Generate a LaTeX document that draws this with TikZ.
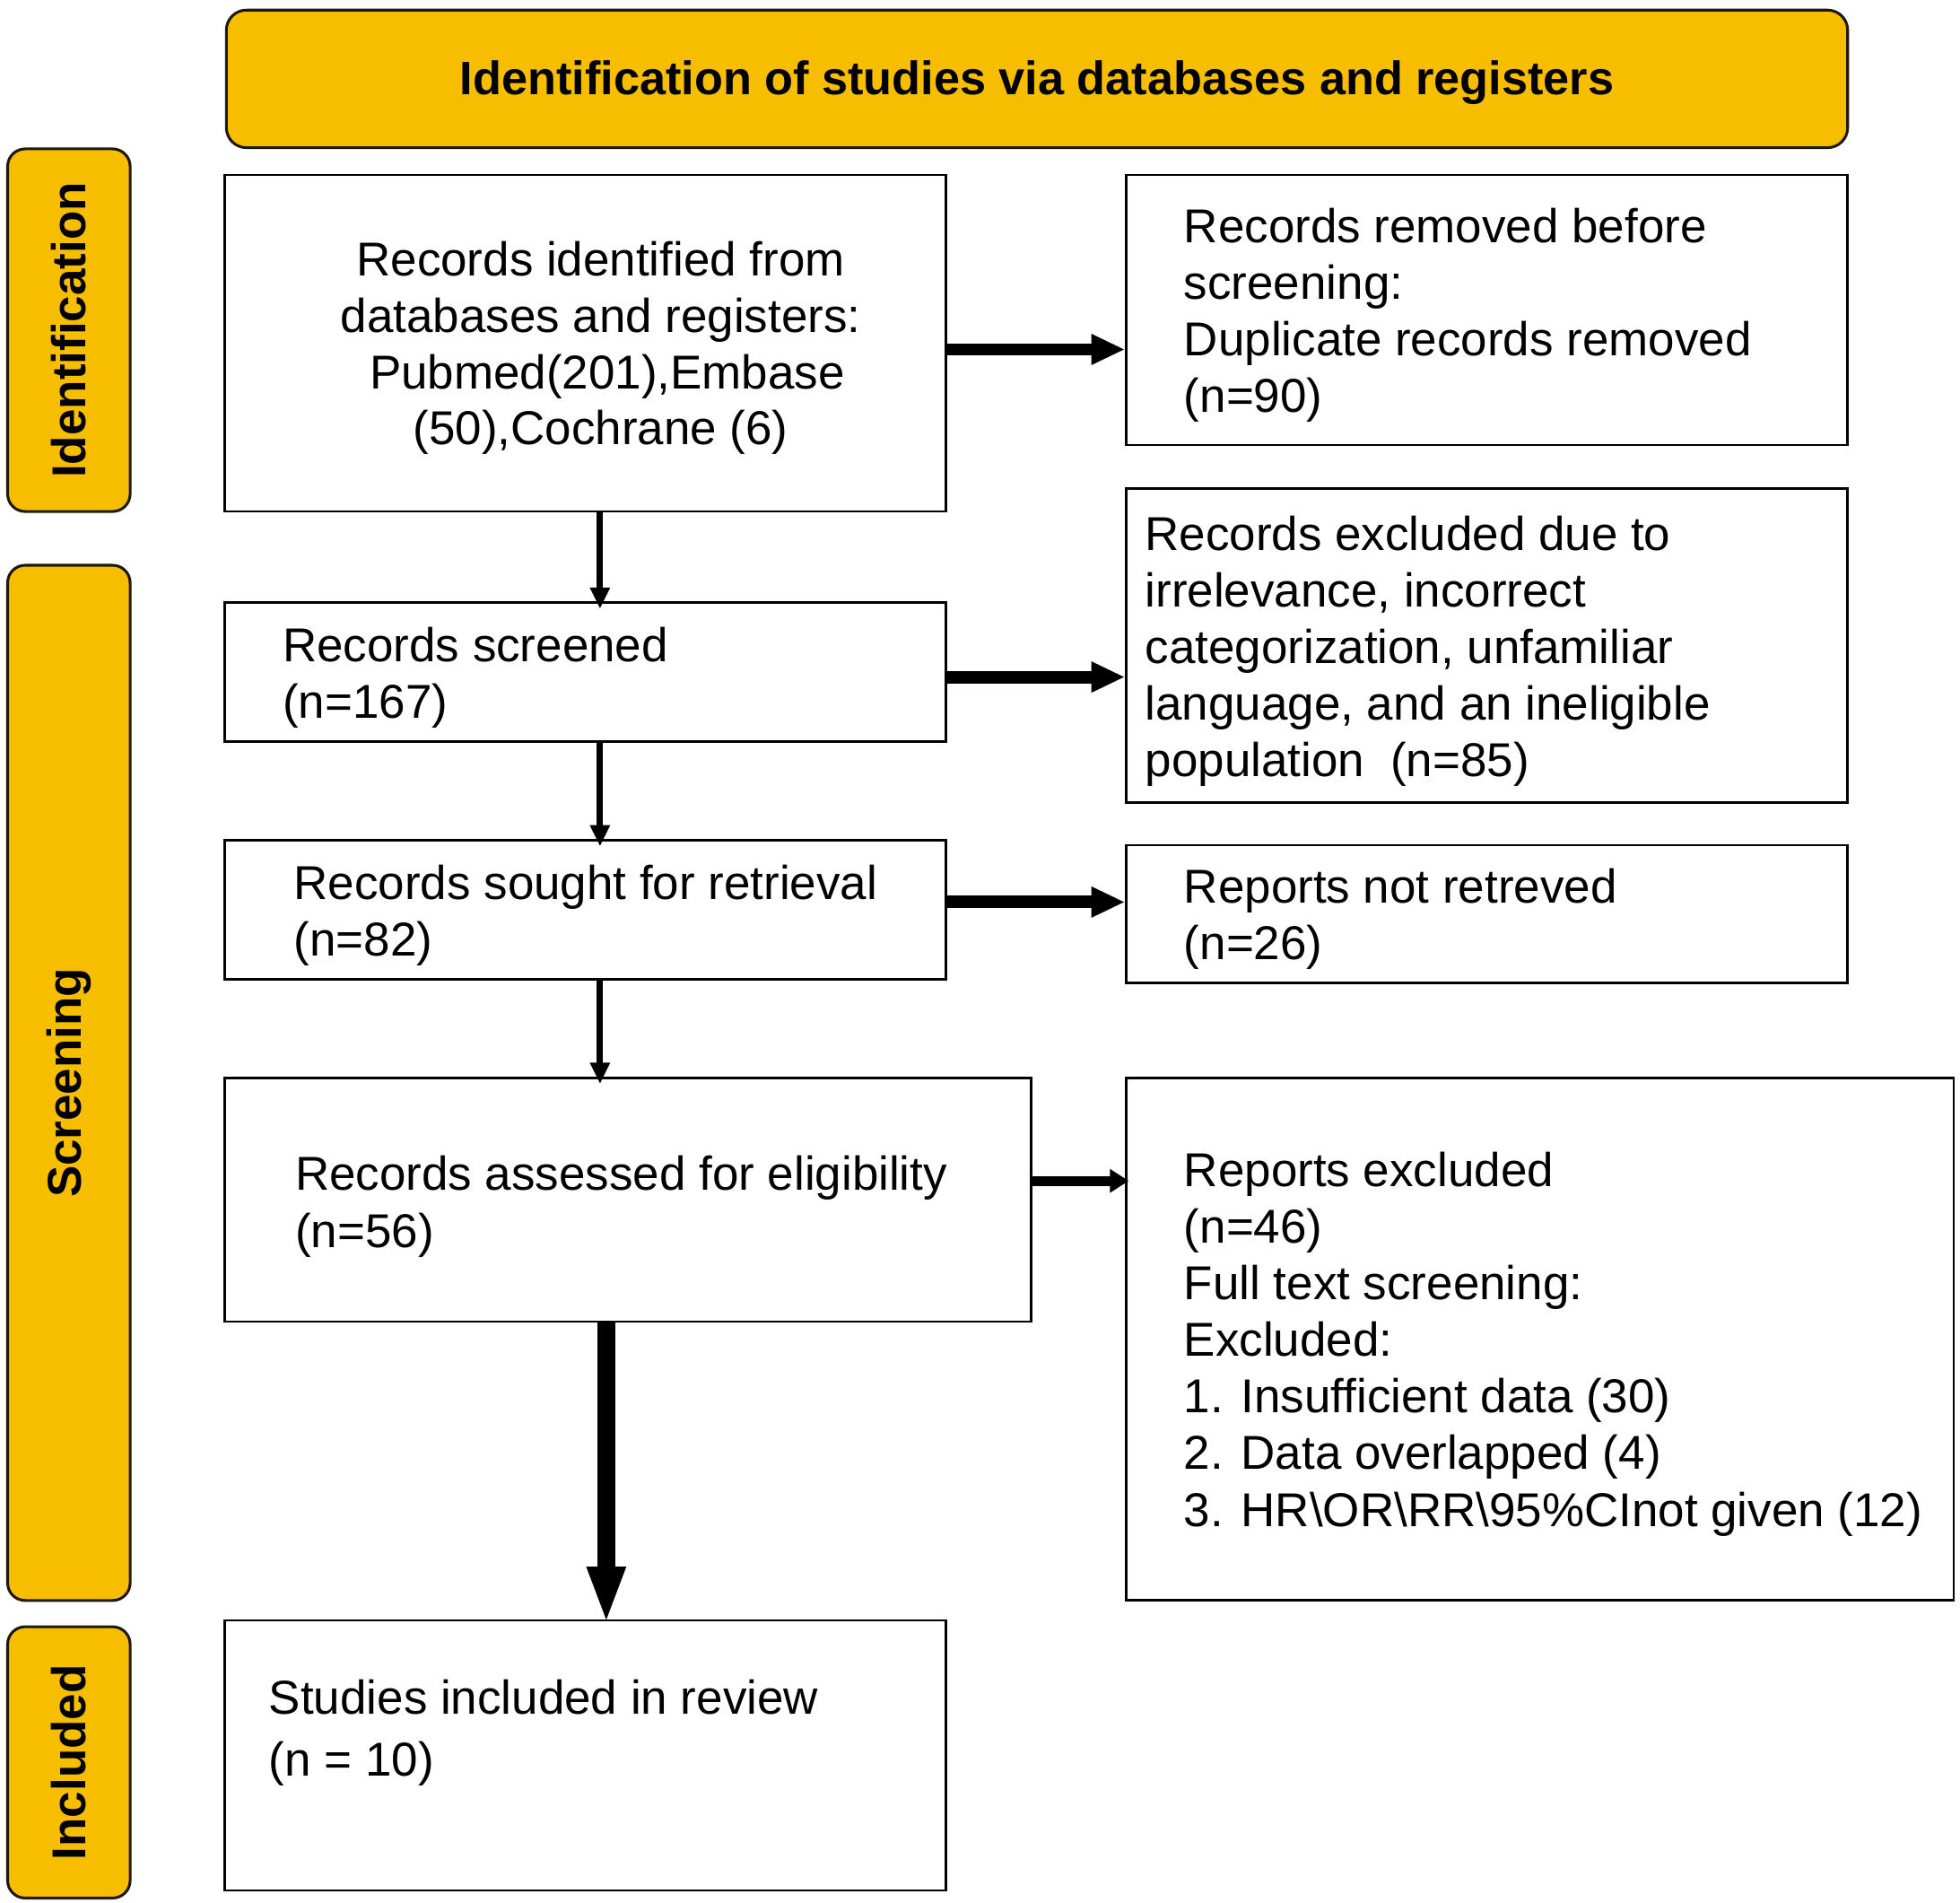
\documentclass[tikz,border=0pt]{standalone}
\usepackage{fontspec}
\setmainfont{Liberation Sans}
\usetikzlibrary{arrows.meta,calc}
\definecolor{prismayellow}{RGB}{247,190,0}
\definecolor{edgedark}{RGB}{30,25,10}
\begin{document}
\begin{tikzpicture}[x=1pt,y=-1pt,
  box/.style={draw=black, line width=2pt, rectangle, inner sep=0pt, anchor=north west, fill=white},
  band/.style={draw=edgedark, line width=2.2pt, rectangle, rounded corners=14pt, fill=prismayellow, inner sep=0pt, anchor=north west},
  txt/.style={inner sep=0pt, align=left, anchor=west, font=\fontsize{38pt}{45.3pt}\selectfont},
  ctxt/.style={inner sep=0pt, align=center, font=\fontsize{38pt}{45pt}\selectfont},
  sidetxt/.style={inner sep=0pt, rotate=90, font=\fontsize{38pt}{45pt}\selectfont\bfseries},
  bigarrow/.style={line width=10pt, -{Triangle[length=27pt,width=23pt]}},
  midarrow/.style={line width=8pt, -{Triangle[length=15pt,width=18pt]}},
  thinarrow/.style={line width=5pt, -{Triangle[length=17pt,width=15pt]}},
  hugearrow/.style={line width=14pt, -{Triangle[length=46pt,width=28pt]}}
]
\useasboundingbox (0,0) rectangle (1568,1522);

% title band
\node[band, rounded corners=16pt, minimum width=1297pt, minimum height=110pt] (title) at (180,7) {};
\node[inner sep=0pt, font=\fontsize{37.5pt}{45pt}\selectfont\bfseries] (titlet) at ([yshift=-3pt]title.center)
      {Identification of studies via databases and registers};

% side bands
\node[band, minimum width=98pt, minimum height=290pt] (sideI) at (5,118) {};
\node[sidetxt] (sideIt) at (sideI.center) {Identification};
\node[band, minimum width=98pt, minimum height=828pt] (sideS) at (5,451) {};
\node[sidetxt] (sideSt) at (sideS.center) {Screening};
\node[band, minimum width=98pt, minimum height=217pt] (sideN) at (5,1300) {};
\node[sidetxt] (sideNt) at (sideN.center) {Included};

% boxes
\node[box, minimum width=577pt, minimum height=269pt] (A) at (179,139) {};
\node[ctxt] (At) at ([xshift=12pt,yshift=-4pt]A.center)
  {Records identified from\\databases and registers:\\\ Pubmed(201),Embase\\(50),Cochrane (6)};
\node[box, minimum width=577pt, minimum height=216pt] (B) at (900,139) {};
\node[txt] (Bt) at (947,252) {Records removed before\\screening:\\Duplicate records removed\\(n=90)};

\node[box, minimum width=577pt, minimum height=111pt] (C) at (179,481) {};
\node[txt] (Ct) at (226,542) {Records screened\\(n=167)};

\node[box, minimum width=577pt, minimum height=251pt] (D) at (900,390) {};
\node[txt] (Dt) at (916,521) {Records excluded due to\\irrelevance, incorrect\\categorization, unfamiliar\\language, and an ineligible\\population\hspace{0.55em}(n=85)};

\node[box, minimum width=577pt, minimum height=111pt] (E) at (179,671) {};
\node[txt] (Et) at (235,732) {Records sought for retrieval\\(n=82)};

\node[box, minimum width=577pt, minimum height=110pt] (F) at (900,675) {};
\node[txt] (Ft) at (947,735) {Reports not retreved\\(n=26)};

\node[box, minimum width=645pt, minimum height=195pt] (G) at (179,861) {};
\node[txt] (Gt) at (236,965) {Records assessed for eligibility\\(n=56)};

\node[box, minimum width=662pt, minimum height=418pt] (H) at (900,861) {};
\node[txt] (Ht) at (947,1075) {Reports excluded\\(n=46)\\Full text screening:\\Excluded:\\1. Insufficient data (30)\\2. Data overlapped (4)\\3. HR\textbackslash OR\textbackslash RR\textbackslash 95\%CInot given (12)};

\node[box, minimum width=577pt, minimum height=216pt] (I) at (179,1295) {};
\node[txt, font=\fontsize{38pt}{50pt}\selectfont] (It) at (215,1386) {Studies included in review\\(n = 10)};

% horizontal arrows
\coordinate (ab) at ([yshift=-5pt]A.east);
\draw[bigarrow] (ab) -- (ab -| B.west);
\coordinate (cd) at ([yshift=-4pt]C.east);
\draw[bigarrow] (cd) -- (cd -| D.west);
\coordinate (ef) at ([yshift=6pt]E.east);
\draw[bigarrow] (ef) -- (ef -| F.west);
\coordinate (gh) at ([yshift=15pt]G.east);
\draw[midarrow] (gh) -- ([xshift=3pt]gh -| H.west);

% vertical arrows
\coordinate (ac) at ([xshift=11.5pt]A.south);
\draw[thinarrow] (ac) -- ([yshift=-6pt]ac |- C.north);
\coordinate (ce) at ([xshift=11.5pt]C.south);
\draw[thinarrow] (ce) -- ([yshift=-6pt]ce |- E.north);
\coordinate (eg) at ([xshift=11.5pt]E.south);
\draw[thinarrow] (eg) -- ([yshift=-6pt]eg |- G.north);
\coordinate (gi) at ([xshift=-17.5pt]G.south);
\draw[hugearrow] (gi) -- ([yshift=-4pt]gi |- I.north);
\end{tikzpicture}
\end{document}
